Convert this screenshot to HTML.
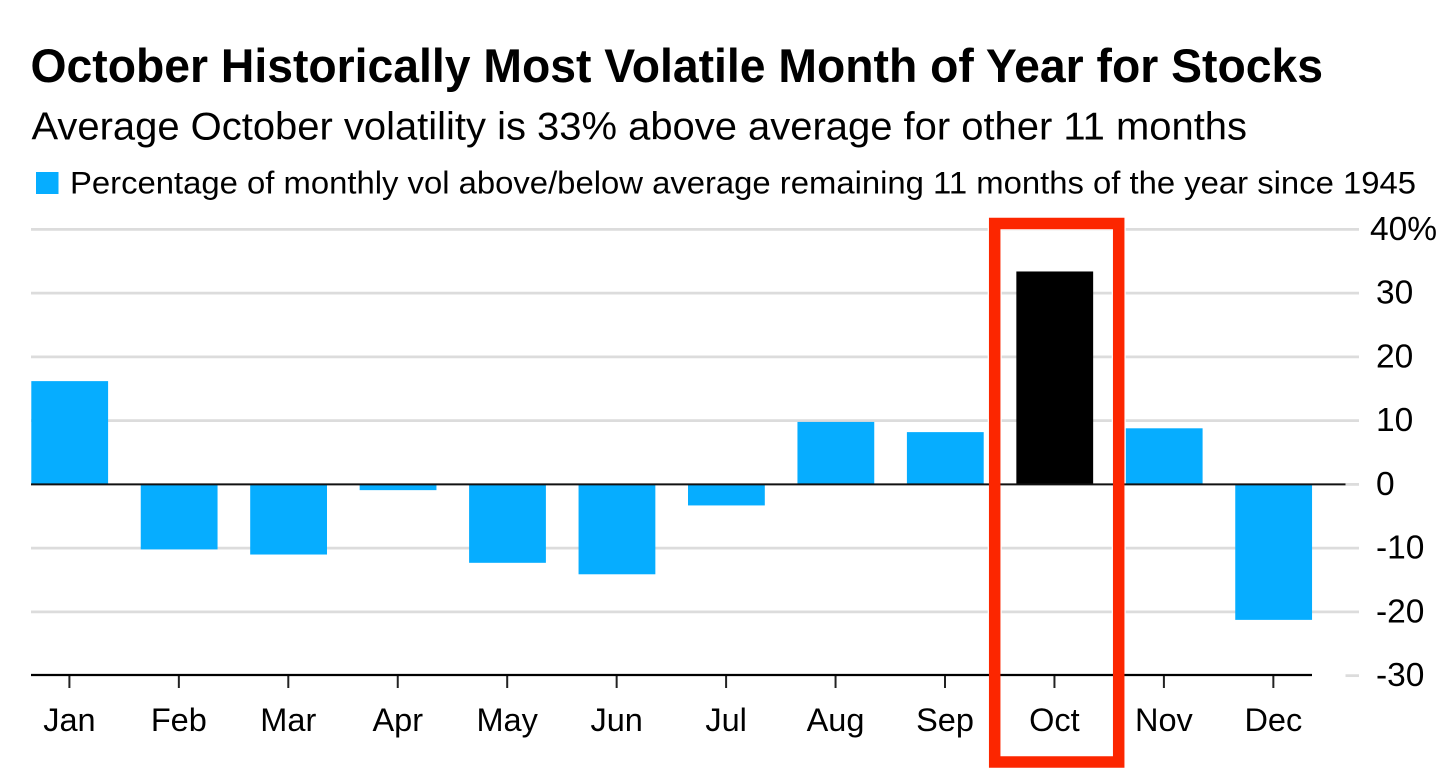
<!DOCTYPE html>
<html>
<head>
<meta charset="utf-8">
<style>
html,body{margin:0;padding:0;background:#fff;}
body{width:1456px;height:779px;overflow:hidden;position:relative;font-family:"Liberation Sans",sans-serif;color:#000;}
svg{position:absolute;left:0;top:0;}
</style>
</head>
<body>
<svg id="chart" width="1456" height="779" viewBox="0 0 1456 779">
<defs><clipPath id="label-clip"><rect x="1360" y="200" width="76" height="520"></rect></clipPath></defs>
<text x="30.5" y="82" font-size="47" font-weight="700" textLength="1292.5" lengthAdjust="spacingAndGlyphs">October Historically Most Volatile Month of Year for Stocks</text>
<text x="31.5" y="139.5" font-size="39" textLength="1215.5" lengthAdjust="spacingAndGlyphs">Average October volatility is 33% above average for other 11 months</text>
<rect x="36" y="172" width="22.5" height="22" fill="#06adff"></rect>
<text x="70" y="193.5" font-size="31.5" textLength="1346" lengthAdjust="spacingAndGlyphs">Percentage of monthly vol above/below average remaining 11 months of the year since 1945</text>
<g id="grid"></g>
<rect x="994.7" y="223.5" width="124" height="538.5" fill="none" stroke="#fff" stroke-width="14"></rect>
<g id="bars"></g>
<g id="axes"></g>
<g id="labels" clip-path="url(#label-clip)"></g>
<rect x="994.7" y="223.5" width="124" height="538.5" fill="none" stroke="#fc2600" stroke-width="11.5"></rect>
</svg>
<script>
const months = ['Jan','Feb','Mar','Apr','May','Jun','Jul','Aug','Sep','Oct','Nov','Dec'];
const volatility = [16.2,-10.2,-11,-0.9,-12.3,-14.1,-3.3,9.8,8.2,33.4,8.8,-21.25];
const yTicks = [40,30,20,10,0,-10,-20,-30];
const yTickLabels = ['40%','30','20','10','0','-10','-20','-30'];
const highlightMonth = 'Oct';

const NS = 'http://www.w3.org/2000/svg';
const yScale = v => 484.4 - v * 6.375;
const xScale = i => 69.4 + i * 109.45;
const barWidth = 76.8;
function mk(parent, tag, attrs, text){
  const el = document.createElementNS(NS, tag);
  for (const k in attrs) el.setAttribute(k, attrs[k]);
  if (text !== undefined) el.textContent = text;
  parent.appendChild(el);
  return el;
}
const grid = document.getElementById('grid');
const bars = document.getElementById('bars');
const axes = document.getElementById('axes');
const labels = document.getElementById('labels');

yTicks.forEach((t, i) => {
  const y = yScale(t);
  const startsAtPlotEdge = t === 0 || t === -30;
  const line = mk(grid, 'line', {x1:startsAtPlotEdge ? 1345.5 : 31, x2:1359, y1:y, y2:y, stroke:'#dcdcdc', 'stroke-width':2.8});
  
  
  const label = mk(labels, 'text', {x:i === 0 ? 1370 : 1376, y:y + 10.5, 'font-size':33.5}, yTickLabels[i]);
  
  
});

months.forEach((m, i) => {
  const v = volatility[i];
  const top = Math.min(yScale(v), yScale(0));
  const h = Math.abs(yScale(v) - yScale(0));
  const bar = mk(bars, 'rect', {x:xScale(i) + 0.3 - barWidth / 2, y:top, width:barWidth, height:h, fill:m === highlightMonth ? '#000' : '#06adff'});
  
  
  const tick = mk(axes, 'line', {x1:xScale(i), x2:xScale(i), y1:675, y2:688, stroke:'#222', 'stroke-width':2});
  
  
  const label = mk(axes, 'text', {x:xScale(i), y:731, 'font-size':32.5, 'text-anchor':'middle'}, m);
  
  
});

const zero = mk(axes, 'line', {x1:31, x2:1345.5, y1:yScale(0), y2:yScale(0), stroke:'#111', 'stroke-width':2});


const xAxis = mk(axes, 'line', {x1:31, x2:1312, y1:675, y2:675, stroke:'#000', 'stroke-width':2.2});


</script>
</body>
</html>
